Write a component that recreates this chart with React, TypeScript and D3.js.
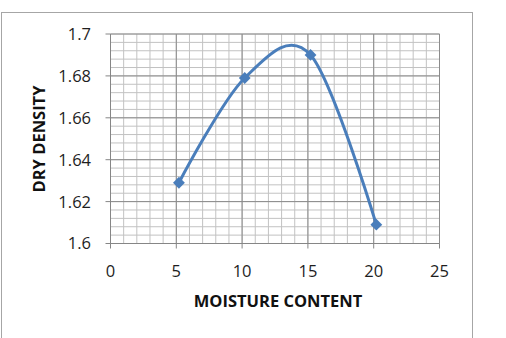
import React from "react";
import * as d3 from "d3";

const moisture = [5.2, 10.2, 15.2, 20.2];
const dryDensity = [1.629, 1.679, 1.69, 1.609];
const xTicks = [0, 5, 10, 15, 20, 25];
const yTicks = [1.6, 1.62, 1.64, 1.66, 1.68, 1.7];
const xTitle = "MOISTURE CONTENT";
const yTitle = "DRY DENSITY";

export default function App() {
  const W = 506, H = 338;
  const left = 110.5, right = 439.5, top = 34, bottom = 243.5;
  const x = d3.scaleLinear().domain([0, 25]).range([left, right]);
  const y = d3.scaleLinear().domain([1.6, 1.7]).range([bottom, top]);

  const xMinor = d3.range(0, 25.001, 1);
  const yMinor = d3.range(0, 25.001, 1).map((i) => 1.6 + i * 0.004);

  const pts: [number, number][] = moisture.map((m, i) => [x(m), y(dryDensity[i])]);
  const line = d3.line().curve(d3.curveCardinal.tension(0))(pts) || "";
  const marker = d3.symbol().type(d3.symbolSquare).size(70)() || "";

  const font = "'Open Sans', sans-serif";
  const minorColor = "#c2c2c2";
  const majorColor = "#8c8c8c";

  return (
    <svg width={W} height={H} style={{ position: "absolute", left: 0, top: 0, background: "#fff" }}>
      <rect x={1.5} y={12.5} width={471} height={340} fill="#fff" stroke="#a6a6a6" strokeWidth={1} />
      {xMinor.map((v) => (
        <line key={"xm" + v} x1={x(v)} x2={x(v)} y1={top} y2={bottom} stroke={minorColor} strokeWidth={1} />
      ))}
      {yMinor.map((v, i) => (
        <line key={"ym" + i} x1={left} x2={right} y1={y(v)} y2={y(v)} stroke={minorColor} strokeWidth={1} />
      ))}
      {xTicks.map((v) => (
        <line key={"xM" + v} x1={x(v)} x2={x(v)} y1={top} y2={bottom} stroke={majorColor} strokeWidth={1} />
      ))}
      {yTicks.map((v) => (
        <line key={"yM" + v} x1={left} x2={right} y1={y(v)} y2={y(v)} stroke={majorColor} strokeWidth={1} />
      ))}
      <line x1={left} x2={left} y1={top} y2={bottom} stroke="#868686" strokeWidth={1} />
      <line x1={left} x2={right} y1={bottom} y2={bottom} stroke="#868686" strokeWidth={1} />
      {yTicks.map((v) => (
        <g key={"yt" + v}>
          <line x1={left - 5} x2={left} y1={y(v)} y2={y(v)} stroke="#868686" />
          <text x={91} y={y(v)} dy="0.36em" textAnchor="end" fontFamily={font} fontSize={16.5} fill="#1e1e1e">
            {d3.format("")(+v.toFixed(2))}
          </text>
        </g>
      ))}
      {xTicks.map((v) => (
        <g key={"xt" + v}>
          <line x1={x(v)} x2={x(v)} y1={bottom} y2={bottom + 5} stroke="#868686" />
          <text x={x(v)} y={276.5} textAnchor="middle" fontFamily={font} fontSize={16.5} fill="#1e1e1e">
            {v}
          </text>
        </g>
      ))}
      <path d={line} fill="none" stroke="#4a7ebb" strokeWidth={3} />
      {pts.map(([px, py], i) => (
        <path key={"m" + i} d={marker} transform={`translate(${px},${py}) rotate(45)`} fill="#4a7ebb" />
      ))}
      <text x={278} y={307} textAnchor="middle" fontFamily={font} fontWeight="bold" fontSize={16.5} fill="#111">
        {xTitle}
      </text>
      <text
        transform={`translate(45,139) rotate(-90)`}
        textAnchor="middle"
        fontFamily={font}
        fontWeight="bold"
        fontSize={16.5}
        fill="#111"
      >
        {yTitle}
      </text>
    </svg>
  );
}
